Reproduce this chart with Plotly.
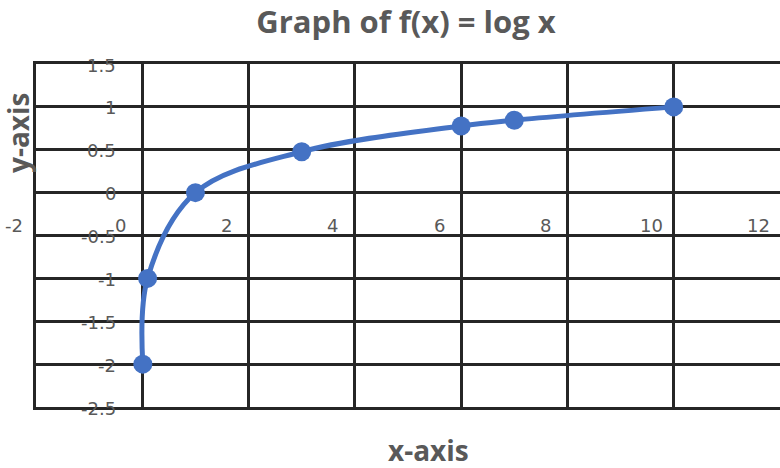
import plotly.graph_objects as go

# Points of f(x) = log10(x)
x_vals = [0.01, 0.1, 1, 3, 6, 7, 10]
y_vals = [-2, -1, 0, 0.477, 0.778, 0.845, 1]

# Axis ticks and their labels
x_ticks = [-2, 0, 2, 4, 6, 8, 10, 12]
x_tick_text = ["-2", "0", "2", "4", "6", "8", "10", "12"]
y_ticks = [-2.5, -2, -1.5, -1, -0.5, 0, 0.5, 1, 1.5]
y_tick_text = ["-2.5", "-2", "-1.5", "-1", "-0.5", "0", "0.5", "1", "1.5"]

x_range = [-2, 12]
y_range = [-2.5, 1.5]

FONT = "Open Sans"
TICK_FONT = "DejaVu Sans"
TEXT = "#595959"
GRID = "#262626"
BLUE = "#4472C4"

fig = go.Figure()
fig.add_trace(go.Scatter(
    x=x_vals, y=y_vals,
    mode="lines+markers",
    line=dict(color=BLUE, width=5, shape="spline", smoothing=1),
    marker=dict(color=BLUE, size=19),
    showlegend=False,
))

tick_font = dict(family=TICK_FONT, size=18, color=TEXT)

annotations = []
# x tick labels sit just below the horizontal axis, which crosses at y = 0
for v, t in zip(x_ticks, x_tick_text):
    annotations.append(dict(
        text=t, x=v, y=0, xref="x", yref="y", showarrow=False,
        xanchor="center", yanchor="middle", xshift=-22, yshift=-33,
        font=tick_font,
    ))
# y tick labels sit left of the vertical axis, which crosses at x = 0
for v, t in zip(y_ticks, y_tick_text):
    annotations.append(dict(
        text=t, x=0, y=v, xref="x", yref="y", showarrow=False,
        xanchor="right", yanchor="middle", xshift=-24, yshift=-1,
        font=tick_font,
    ))
annotations += [
    dict(text="<b>x-axis</b>", xref="paper", yref="paper",
         x=(428 - 36) / 744, y=(407 - 450) / 343,
         xanchor="center", yanchor="middle", showarrow=False,
         font=dict(family=FONT, size=28, color=TEXT)),
    dict(text="<b>y-axis</b>", xref="paper", yref="paper",
         x=(18 - 36) / 744, y=(407 - 133) / 343, textangle=-90,
         xanchor="center", yanchor="middle", showarrow=False,
         font=dict(family=FONT, size=28, color=TEXT)),
]

fig.update_layout(
    width=780, height=468,
    margin=dict(l=36, r=0, t=64, b=61),
    paper_bgcolor="white", plot_bgcolor="white",
    title=dict(
        text="<b>Graph of f(x) = log x</b>",
        font=dict(family=FONT, size=31, color=TEXT),
        x=406 / 780, xanchor="center", xref="container",
        y=1 - 22 / 468, yanchor="middle", yref="container",
    ),
    xaxis=dict(
        range=x_range, tickvals=x_ticks, showticklabels=False, ticks="",
        showgrid=True, gridcolor=GRID, gridwidth=2.5, zeroline=False,
        showline=True, linecolor=GRID, linewidth=2.5, mirror=True,
    ),
    yaxis=dict(
        range=y_range, tickvals=y_ticks, showticklabels=False, ticks="",
        showgrid=True, gridcolor=GRID, gridwidth=2.5, zeroline=False,
        showline=True, linecolor=GRID, linewidth=2.5, mirror=False,
    ),
    annotations=annotations,
)

fig.write_html("out.html")
